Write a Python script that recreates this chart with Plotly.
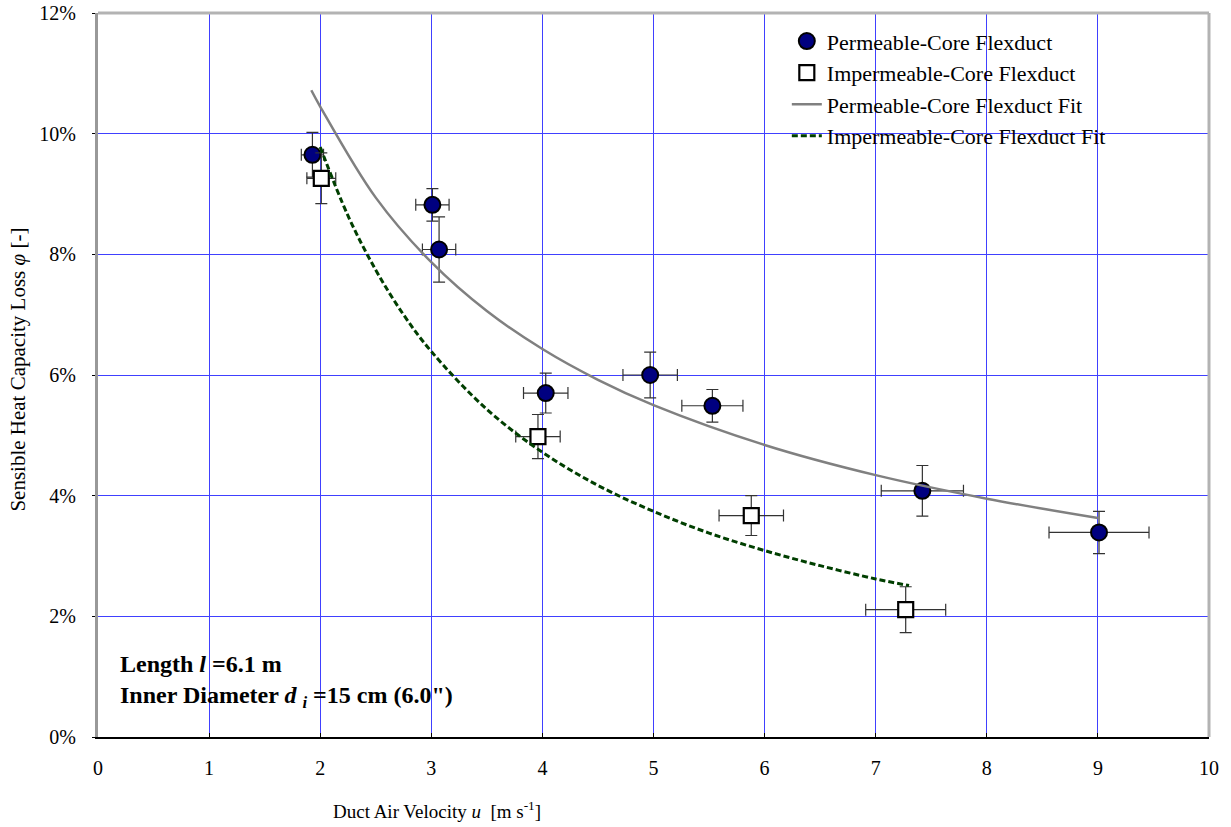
import plotly.graph_objects as go

# ---- data ----
perm_x = [1.93, 3.01, 3.07, 4.03, 4.97, 5.53, 7.42, 9.01]
perm_y = [9.65, 8.82, 8.08, 5.70, 6.00, 5.49, 4.08, 3.39]
perm_xerr = [0.10, 0.15, 0.15, 0.20, 0.245, 0.275, 0.37, 0.45]
perm_yerr = [0.37, 0.27, 0.54, 0.33, 0.38, 0.27, 0.42, 0.35]

imp_x = [2.01, 3.96, 5.88, 7.27]
imp_y = [9.26, 4.98, 3.67, 2.11]
imp_xerr = [0.13, 0.20, 0.29, 0.36]
imp_yerr = [0.42, 0.365, 0.33, 0.38]

perm_fit_x = [1.92, 2.0, 2.5, 3.0, 3.5, 4.0, 4.5, 5.0, 6.0, 7.0, 8.0, 9.0]
perm_fit_y = [10.72, 10.45, 8.94, 7.87, 7.06, 6.43, 5.92, 5.50, 4.84, 4.34, 3.95, 3.63]

imp_fit_x = [2.0, 2.25, 2.5, 2.75, 3.0, 3.5, 4.0, 4.5, 5.0, 5.5, 6.0, 6.5, 7.0, 7.3]
imp_fit_y = [9.78, 8.64, 7.74, 7.00, 6.39, 5.43, 4.72, 4.17, 3.74, 3.38, 3.09, 2.84, 2.62, 2.51]

x_ticks = [0, 1, 2, 3, 4, 5, 6, 7, 8, 9, 10]
y_ticks = [0, 2, 4, 6, 8, 10, 12]

FONT = "Liberation Serif, Times New Roman, serif"
GRID = "#4040ff"

fig = go.Figure()

err_style = dict(color="#333333", thickness=1.2, width=6)

fig.add_trace(go.Scatter(
    x=perm_x, y=perm_y, mode="markers", name="Permeable-Core Flexduct",
    legendgroup="a",
    marker=dict(symbol="circle", size=16, color="#000080", line=dict(color="black", width=2)),
    error_x=dict(type="data", array=perm_xerr, visible=True, **err_style),
    error_y=dict(type="data", array=perm_yerr, visible=True, **err_style),
))
fig.add_trace(go.Scatter(
    x=imp_x, y=imp_y, mode="markers", name="Impermeable-Core Flexduct",
    legendgroup="b",
    marker=dict(symbol="square", size=15, color="white", line=dict(color="black", width=2.2)),
    error_x=dict(type="data", array=imp_xerr, visible=True, **err_style),
    error_y=dict(type="data", array=imp_yerr, visible=True, **err_style),
))
fig.add_trace(go.Scatter(
    x=perm_fit_x, y=perm_fit_y, mode="lines", name="Permeable-Core Flexduct Fit",
    legendgroup="c", line=dict(color="#808080", width=2.5, shape="spline"),
))
fig.add_trace(go.Scatter(
    x=imp_fit_x, y=imp_fit_y, mode="lines", name="Impermeable-Core Flexduct Fit",
    legendgroup="d", line=dict(color="#003f00", width=3, dash="6px,3px", shape="spline"),
))

# white boxes behind legend and text (hide gridlines)
fig.add_shape(type="rect", xref="paper", yref="paper", x0=0.521, x1=0.990, y0=0.811, y1=0.984,
              fillcolor="white", line=dict(width=0), layer="between")
fig.add_shape(type="rect", xref="paper", yref="paper", x0=0.002, x1=0.36, y0=0.020, y1=0.1295,
              fillcolor="white", line=dict(width=0), layer="between")
# top and right borders
fig.add_shape(type="line", xref="paper", yref="paper", x0=0, x1=1, y0=1, y1=1,
              line=dict(color="#b3b3b3", width=3), layer="above")
fig.add_shape(type="line", xref="paper", yref="paper", x0=1, x1=1, y0=0, y1=1,
              line=dict(color="#b3b3b3", width=3), layer="above")

fig.add_annotation(
    xref="paper", yref="paper", x=0.3055, y=-0.101, xanchor="center", yanchor="middle",
    text="Duct Air Velocity <i>u</i>  [m s<sup>-1</sup>]", showarrow=False,
    font=dict(family=FONT, size=19, color="black"),
)
fig.add_annotation(
    xref="paper", yref="paper", x=-0.0723, y=0.507, xanchor="center", yanchor="middle",
    textangle=-90, text="Sensible Heat Capacity Loss <i>φ</i> [-]", showarrow=False,
    font=dict(family=FONT, size=21, color="black"),
)
fig.add_annotation(
    xref="paper", yref="paper", x=0.0177, y=0.077, xanchor="left", yanchor="middle", align="left",
    text="<b>Length <i>l</i> =6.1 m</b><br><b>Inner Diameter <i>d</i> <sub><i>i</i></sub> =15 cm (6.0\")</b>",
    showarrow=False, font=dict(family=FONT, size=24, color="black"),
)

fig.update_layout(
    width=1231, height=827,
    margin=dict(l=98, r=22, t=13, b=90, autoexpand=False),
    paper_bgcolor="white", plot_bgcolor="white",
    font=dict(family=FONT, size=20, color="black"),
    showlegend=True,
    legend=dict(
        x=0.62, y=0.99, xanchor="left", yanchor="top",
        bgcolor="rgba(0,0,0,0)", borderwidth=0,
        font=dict(family=FONT, size=22, color="black"),
        traceorder="grouped", tracegroupgap=0,
    ),
    xaxis=dict(
        range=[0, 10], tickvals=x_ticks, ticktext=[str(v) for v in x_ticks],
        showgrid=True, gridcolor=GRID, gridwidth=1, zeroline=False,
        showline=True, linecolor="black", linewidth=1.5,
        ticks="inside", ticklen=4, tickcolor="black",
        ticklabelstandoff=12, automargin=False,
        tickfont=dict(family=FONT, size=20, color="black"),
    ),
    yaxis=dict(
        range=[0, 12], tickvals=y_ticks, ticktext=[f"{v}%" for v in y_ticks],
        showgrid=True, gridcolor=GRID, gridwidth=1, zeroline=False,
        showline=True, linecolor="#999999", linewidth=3,
        ticks="outside", ticklen=3, tickcolor="black",
        ticklabelstandoff=12, automargin=False,
        tickfont=dict(family=FONT, size=20, color="black"),
    ),
)

fig.write_html("out.html")
